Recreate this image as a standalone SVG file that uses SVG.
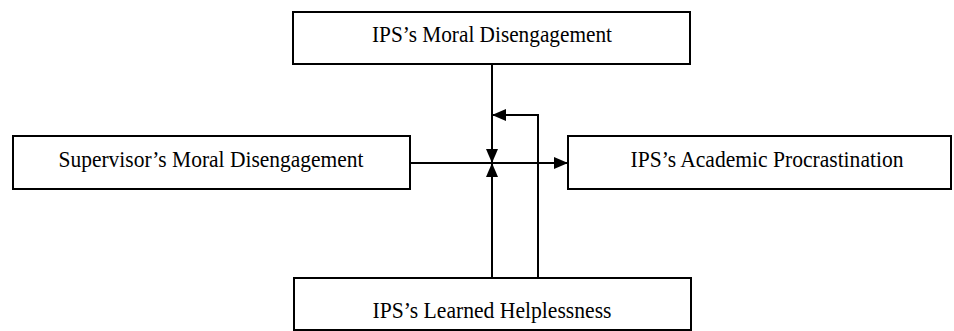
<svg xmlns="http://www.w3.org/2000/svg" width="954" height="331" viewBox="0 0 954 331">
<defs>
<style>
.box{fill:#fff;stroke:#000;stroke-width:2}
.lbl{font-family:"Liberation Serif","Times New Roman",serif;font-size:23px;fill:#000;text-anchor:middle}
.ln{fill:none;stroke:#000;stroke-width:2}
</style>
<marker id="ah" markerWidth="14" markerHeight="12" refX="14" refY="6" orient="auto" markerUnits="userSpaceOnUse">
<path d="M0,0 L14,6 L0,12 Z" fill="#000"/>
</marker>
</defs>
<rect width="954" height="331" fill="#fff"/>
<g id="connectors">
<line class="ln" x1="492" y1="64" x2="492" y2="163" marker-end="url(#ah)"/>
<line class="ln" x1="410" y1="163" x2="568" y2="163" marker-end="url(#ah)"/>
<line class="ln" x1="492" y1="278" x2="492" y2="163" marker-end="url(#ah)"/>
<polyline class="ln" points="538,278 538,115 492,115" marker-end="url(#ah)"/>
</g>
<g id="n-ips-md">
<rect class="box" x="293" y="12" width="397" height="52"/>
<text class="lbl" x="492" y="42" textLength="240" lengthAdjust="spacingAndGlyphs">IPS’s Moral Disengagement</text>
</g>
<g id="n-sup-md">
<rect class="box" x="13" y="136" width="397" height="53"/>
<text class="lbl" x="211" y="167" textLength="305" lengthAdjust="spacingAndGlyphs">Supervisor’s Moral Disengagement</text>
</g>
<g id="n-ips-ap">
<rect class="box" x="568" y="136" width="383" height="53"/>
<text class="lbl" x="767" y="167" textLength="273" lengthAdjust="spacingAndGlyphs">IPS’s Academic Procrastination</text>
</g>
<g id="n-ips-lh">
<rect class="box" x="294" y="278" width="397" height="52"/>
<text class="lbl" x="492" y="318" textLength="239" lengthAdjust="spacingAndGlyphs">IPS’s Learned Helplessness</text>
</g>
</svg>
